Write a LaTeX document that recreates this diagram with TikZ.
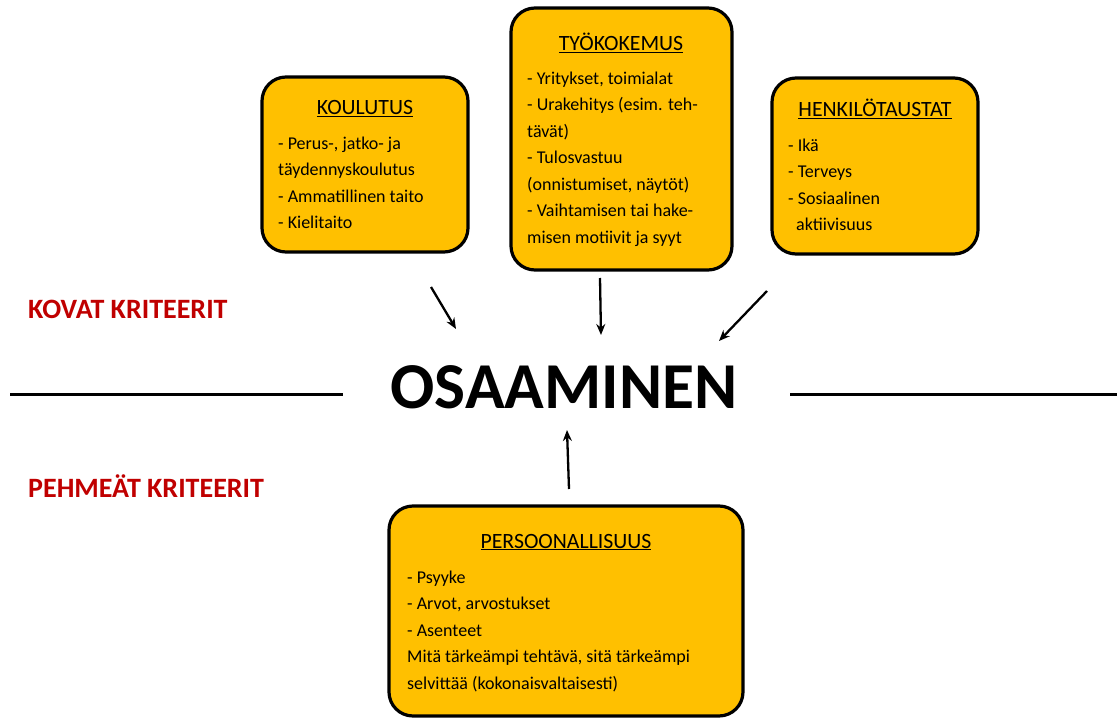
\documentclass[tikz,border=0pt]{standalone}
\usepackage{fontspec}
\setmainfont{Carlito}
\usetikzlibrary{arrows.meta}
\definecolor{boxfill}{HTML}{FFC000}
\definecolor{critred}{HTML}{C00000}
\tikzset{
  card/.style={draw=black, line width=3.2pt, fill=boxfill, rounded corners=24pt, inner sep=0pt},
  cardtitle/.style={anchor=base, inner sep=0pt, font=\fontsize{21.8}{26}\selectfont},
  cardbody/.style={anchor=north west, inner sep=0pt, align=left, font=\fontsize{18}{26.5}\selectfont},
  crit/.style={anchor=base west, inner sep=0pt, text=critred, font=\bfseries\fontsize{28}{32}\selectfont},
  influence/.style={line width=2.3pt, -{Stealth[length=11pt,width=9pt]}},
  divider/.style={line width=3pt}
}
\begin{document}
\begin{tikzpicture}[x=1pt,y=-1pt]
\useasboundingbox (0,0) rectangle (1117,719);
% boxes
\draw[card] (262,77) rectangle (468,252);
\draw[card] (511,8) rectangle (732,270);
\draw[card] (772,78) rectangle (978,254);
\draw[card] (389,506) rectangle (743,716);
% titles
\node[cardtitle] (tkou) at (365,115) {\underline{KOULUTUS}};
\node[cardtitle] (ttyo) at (621,51) {\underline{TYÖKOKEMUS}};
\node[cardtitle] (then) at (875,117) {\underline{HENKILÖTAUSTAT}};
\node[cardtitle] (tper) at (566,548) {\underline{PERSOONALLISUUS}};
% bodies
\node[cardbody] (bkou) at (278,136.5) {- Perus-, jatko- ja\\täydennyskoulutus\\- Ammatillinen taito\\- Kielitaito};
\node[cardbody] (btyo) at (527,71.5) {- Yritykset, toimialat\\- Urakehitys (esim. teh-\\tävät)\\- Tulosvastuu\\(onnistumiset, näytöt)\\- Vaihtamisen tai hake-\\misen motiivit ja syyt};
\node[cardbody] (bhen) at (788,138.5) {- Ikä\\- Terveys\\- Sosiaalinen\\\hspace*{8pt}aktiivisuus};
\node[cardbody] (bper) at (407,570.5) {- Psyyke\\- Arvot, arvostukset\\- Asenteet\\Mitä tärkeämpi tehtävä, sitä tärkeämpi\\selvittää (kokonaisvaltaisesti)};
% centre
\node[anchor=base, inner sep=0pt, font=\bfseries\fontsize{65.5}{70}\selectfont] (osa) at (564,408) {OSAAMINEN};
\node[crit] (kovat) at (28,319) {KOVAT KRITEERIT};
\node[crit] (pehm) at (28,497) {PEHMEÄT KRITEERIT};
% dividers
\coordinate (l1) at (10,395); \coordinate (l2) at (343,395);
\coordinate (r1) at (790,395); \coordinate (r2) at (1117,395);
\draw[divider] (l1) -- (l2);
\draw[divider] (r1) -- (r2);
% arrows
\coordinate (a1s) at (431,287); \coordinate (a1e) at (456,329);
\coordinate (a2s) at (600,278); \coordinate (a2e) at (601,335);
\coordinate (a3s) at (767,291); \coordinate (a3e) at (719,341);
\coordinate (a4s) at (569,489); \coordinate (a4e) at (567,430);
\draw[influence] (a1s) -- (a1e);
\draw[influence] (a2s) -- (a2e);
\draw[influence] (a3s) -- (a3e);
\draw[influence] (a4s) -- (a4e);
\end{tikzpicture}
\end{document}
